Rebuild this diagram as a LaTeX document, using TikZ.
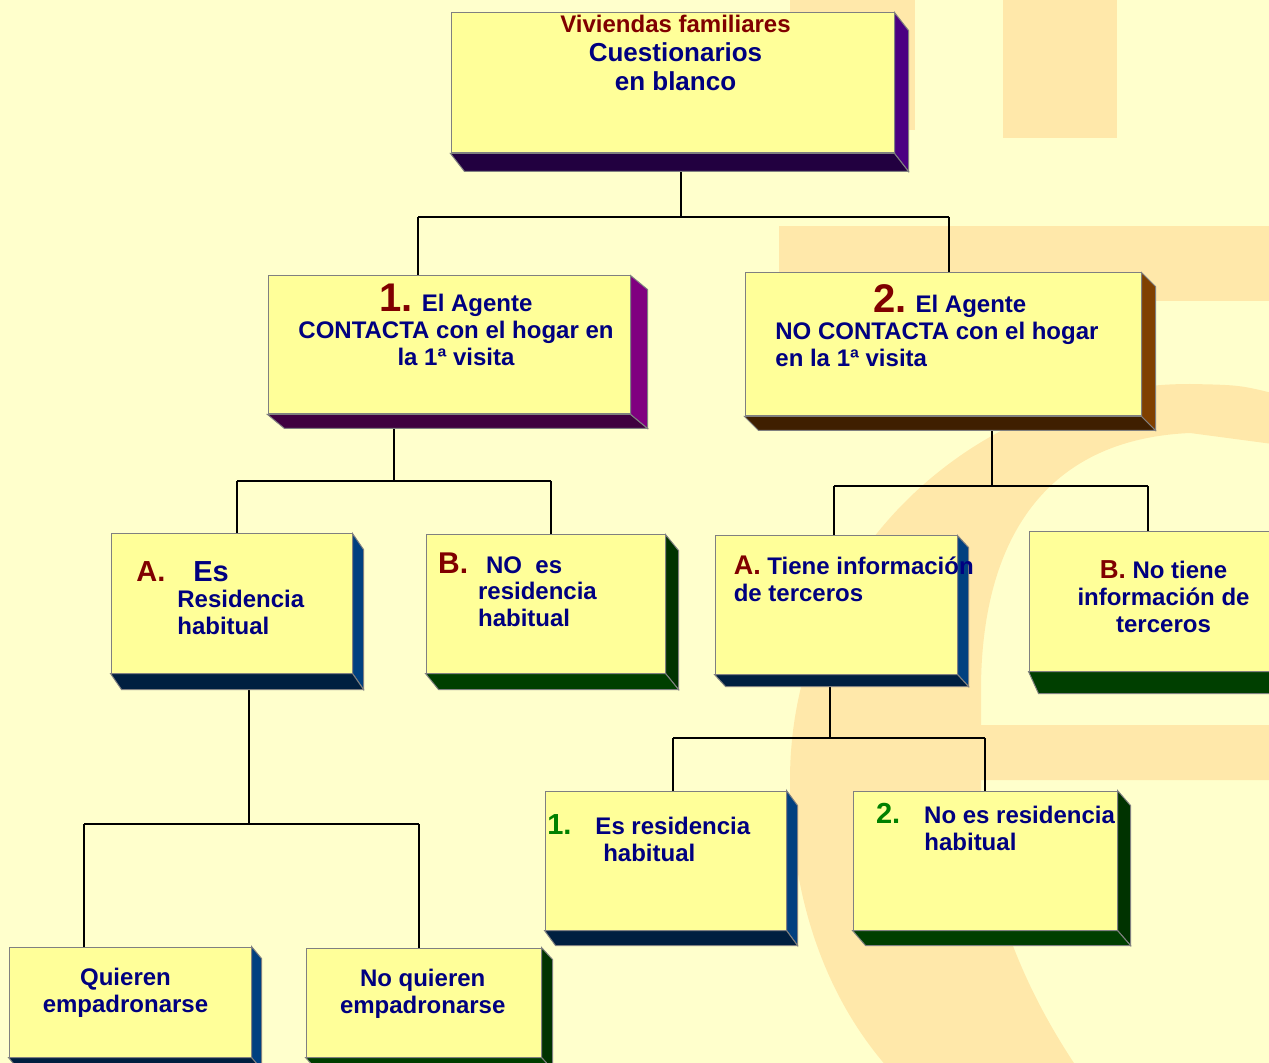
\documentclass[tikz,border=0pt]{standalone}
\usepackage{fontspec}
\setmainfont{Liberation Sans}
\usetikzlibrary{fit,calc}

\definecolor{fondo}{HTML}{FFFFCC}
\definecolor{marca}{HTML}{FFE8AA}
\definecolor{frente}{HTML}{FFFF99}
\definecolor{borde}{HTML}{808080}
\definecolor{azulTexto}{HTML}{000080}
\definecolor{rojoTexto}{HTML}{800000}
\definecolor{verdeTexto}{HTML}{008000}
\definecolor{lilaLado}{HTML}{4B0082}
\definecolor{lilaBase}{HTML}{220040}
\definecolor{moradoLado}{HTML}{800080}
\definecolor{moradoBase}{HTML}{400040}
\definecolor{marronLado}{HTML}{804000}
\definecolor{marronBase}{HTML}{3F1F00}
\definecolor{azulLado}{HTML}{004080}
\definecolor{azulBase}{HTML}{001F40}
\definecolor{verdeLado}{HTML}{003300}
\definecolor{verdeBase}{HTML}{003F00}

\tikzset{
  caja/.style={draw=borde, fill=frente, line width=0.5pt, inner sep=0pt},
  cara/.style={draw=borde, line width=0.5pt},
  linea/.style={draw=black, line width=0.6pt},
  texto/.style={font=\bfseries\fontsize{12}{13.5}\selectfont, text=azulTexto, inner sep=0pt}
}

\newcommand{\relieve}[5]{%
  \filldraw[cara, fill=#4] (#1.north east) -- ++(#2,#3) -- ($(#1.south east)+(#2,#3)$) -- (#1.south east) -- cycle;
  \filldraw[cara, fill=#5] (#1.south west) -- ++(#2,#3) -- ($(#1.south east)+(#2,#3)$) -- (#1.south east) -- cycle;}
\newcommand{\numero}[3]{{\color{#1}\fontsize{#2}{#2}\selectfont #3}}

\begin{document}
\begin{tikzpicture}[x=0.5pt, y=-0.5pt]
            \fill[fondo] (0,0) rectangle (1269,1063);
            \useasboundingbox (0,0) rectangle (1269,1063);
            \fill[marca] (790,0) rectangle (915,130);
            \fill[marca] (1003,0) rectangle (1117,138);
            \fill[marca] (779,226) rectangle (1280,301);
            \fill[marca] (1280,395) .. controls (1240,385) .. (1190,384)
                .. controls (970,384) and (790,560) .. (790,780)
                .. controls (790,920) and (840,1030) .. (920,1100) -- (1100,1100)
                .. controls (1010,980) and (981,870) .. (981,780) -- (1280,780) -- (1280,725) -- (981,725) -- (981,690)
                .. controls (981,560) and (1030,440) .. (1190,433) -- (1280,445) -- cycle;

            \coordinate (r0) at (681,217); \coordinate (r0a) at (418,217); \coordinate (r0b) at (949,217);
            \coordinate (r1) at (394,481); \coordinate (r1a) at (237,481); \coordinate (r1b) at (551,481);
            \coordinate (r2) at (992,486); \coordinate (r2a) at (834,486); \coordinate (r2b) at (1148,486);
            \coordinate (r3) at (249,824); \coordinate (r3a) at (84,824); \coordinate (r3b) at (419,824);
            \coordinate (r4) at (830,738); \coordinate (r4a) at (673,738); \coordinate (r4b) at (985,738);

            \node[caja, fit={(451,13) (894,153)}] (raiz) {};
            \node[caja, fit={(268,276) (630,414)}] (ag1) {};
            \node[caja, fit={(745,273) (1141,416)}] (ag2) {};
            \node[caja, fit={(111,534) (352,673)}] (esres) {};
            \node[caja, fit={(426,535) (665,673)}] (nores) {};
            \node[caja, fit={(715,536) (957,674)}] (conter) {};
            \node[caja, fit={(1029,532) (1300,671)}] (sinter) {};
            \node[caja, fit={(545,791) (786,930)}] (esresh) {};
            \node[caja, fit={(853,791) (1117,930)}] (noresh) {};
            \node[caja, fit={(9,947) (251,1057)}] (quieren) {};
            \node[caja, fit={(306,948) (541,1057)}] (noquieren) {};

            \draw[linea] (raiz.south -| r0) -- (r0); \draw[linea] (r0a) -- (r0b);
            \draw[linea] (r0a) -- (r0a |- ag1.north); \draw[linea] (r0b) -- (r0b |- ag2.north);
            \draw[linea] (ag1.south -| r1) -- (r1); \draw[linea] (r1a) -- (r1b);
            \draw[linea] (r1a) -- (r1a |- esres.north); \draw[linea] (r1b) -- (r1b |- nores.north);
            \draw[linea] (ag2.south -| r2) -- (r2); \draw[linea] (r2a) -- (r2b);
            \draw[linea] (r2a) -- (r2a |- conter.north); \draw[linea] (r2b) -- (r2b |- sinter.north);
            \draw[linea] (esres.south -| r3) -- (r3); \draw[linea] (r3a) -- (r3b);
            \draw[linea] (r3a) -- (r3a |- quieren.north); \draw[linea] (r3b) -- (r3b |- noquieren.north);
            \draw[linea] (conter.south -| r4) -- (r4); \draw[linea] (r4a) -- (r4b);
            \draw[linea] (r4a) -- (r4a |- esresh.north); \draw[linea] (r4b) -- (r4b |- noresh.north);

            \relieve{raiz}{14}{18}{lilaLado}{lilaBase}
            \relieve{ag1}{17}{14}{moradoLado}{moradoBase}
            \relieve{ag2}{14}{14}{marronLado}{marronBase}
            \relieve{esres}{11}{16}{azulLado}{azulBase}
            \relieve{nores}{13}{16}{verdeLado}{verdeBase}
            \relieve{conter}{11}{12}{azulLado}{azulBase}
            \relieve{sinter}{10}{22}{verdeLado}{verdeBase}
            \relieve{esresh}{11}{15}{azulLado}{azulBase}
            \relieve{noresh}{13}{15}{verdeLado}{verdeBase}
            \relieve{quieren}{10}{12}{azulLado}{azulBase}
            \relieve{noquieren}{11}{12}{verdeLado}{verdeBase}

            % anchor base = baseline of the last line
            \node[texto, font=\bfseries\fontsize{13}{14.5}\selectfont, anchor=base, align=center] (traiz) at (675.5,90.5)
                {{\fontsize{12}{14.5}\selectfont\color{rojoTexto}Viviendas familiares}\\Cuestionarios\\en blanco};
            \node[texto, anchor=base, align=center] (tag1) at (456,366)
                {\numero{rojoTexto}{20}{1.} El Agente\\CONTACTA con el hogar en\\la 1ª visita};
            \node[texto, anchor=base west, align=left] (tag2) at (775,367)
                {\hspace*{49pt}\numero{rojoTexto}{20}{2.} El Agente\\NO CONTACTA con el hogar\\en la 1ª visita};
            \node[texto, anchor=base west, align=left] (tesres) at (136,635)
                {\numero{rojoTexto}{14.5}{A.}\hspace*{14pt}{\fontsize{14.5}{14.5}\selectfont Es}\\\hspace*{20.5pt}Residencia\\\hspace*{20.5pt}habitual};
            \node[texto, anchor=base west, align=left] (tnores) at (437.7,627)
                {\numero{rojoTexto}{15}{B.}\hspace*{9pt}NO\ \ es\\\hspace*{20pt}residencia\\\hspace*{20pt}habitual};
            \node[texto, anchor=base west, align=left] (tconter) at (733.4,601.7)
                {\numero{rojoTexto}{13.5}{A.} Tiene información\\de terceros};
            \node[texto, anchor=base, align=center] (tsinter) at (1163.5,632.7)
                {\numero{rojoTexto}{13}{B.} No tiene\\información de\\terceros};
            \node[texto, anchor=base west, align=left] (tesresh) at (546.9,861)
                {\numero{verdeTexto}{14.5}{1.}\hspace*{12pt}Es residencia\\\hspace*{28pt}habitual};
            \node[texto, anchor=base west, align=left] (tnoresh) at (875.6,850.7)
                {\numero{verdeTexto}{14.5}{2.}\hspace*{12pt}No es residencia\\\hspace*{24.2pt}habitual};
            \node[texto, anchor=base, align=center] (tquieren) at (125.5,1012.7) {Quieren\\empadronarse};
            \node[texto, anchor=base, align=center] (tnoquieren) at (422.7,1013) {No quieren\\empadronarse};
\end{tikzpicture}
\end{document}
